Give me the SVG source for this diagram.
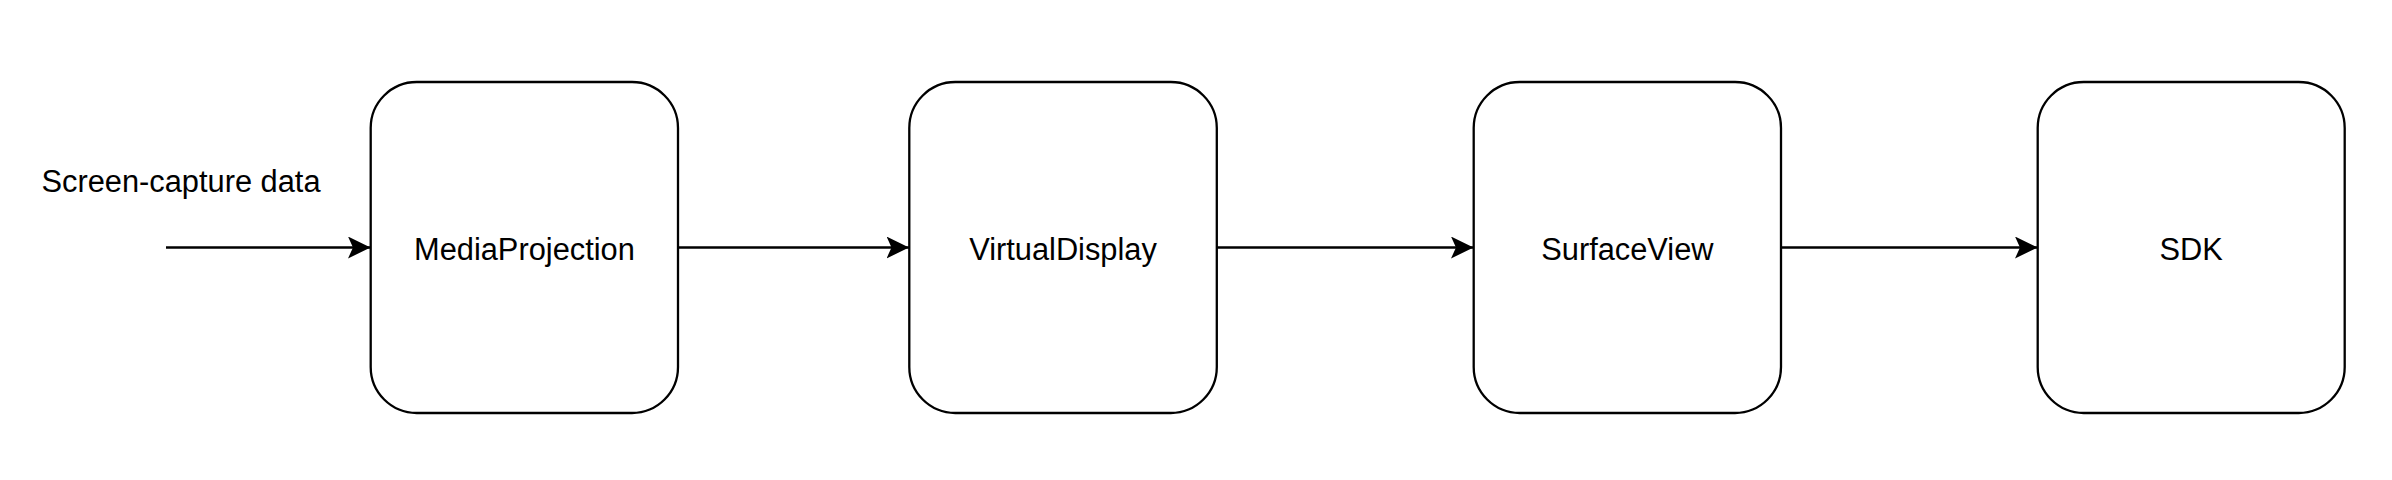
<svg xmlns="http://www.w3.org/2000/svg" width="2392" height="480" viewBox="0 0 2392 480">
  <style>
    .node rect { fill: #ffffff; stroke: #000000; stroke-width: 2.3; }
    .label { font-family: "Liberation Sans", Arial, Helvetica, sans-serif; font-size: 30.8px; fill: #000000; text-anchor: middle; }
    .edge { fill: none; stroke: #000000; stroke-width: 2.3; marker-end: url(#arrow); }
  </style>
  <defs>
    <marker id="arrow" markerUnits="userSpaceOnUse" viewBox="0 0 23 22" markerWidth="23" markerHeight="22" refX="22.5" refY="11" orient="auto">
      <path d="M22.5,11 L0,0 L5,11 L0,22 Z" fill="#000000" stroke="none"/>
    </marker>
  </defs>
  <rect width="2392" height="480" fill="#ffffff"/>
  <g id="connectors">
    <line class="edge" x1="166" y1="247.5" x2="370.5" y2="247.5"/>
    <line class="edge" x1="678" y1="247.5" x2="909" y2="247.5"/>
    <line class="edge" x1="1217" y1="247.5" x2="1473.5" y2="247.5"/>
    <line class="edge" x1="1781" y1="247.5" x2="2037.5" y2="247.5"/>
  </g>
  <g id="input-label">
    <text class="label" x="181" y="191.5">Screen-capture data</text>
  </g>
  <g id="node-mediaprojection" class="node">
    <rect x="370.7" y="82" width="307.3" height="331" rx="46" ry="46"/>
    <text class="label" x="524.4" y="259.5">MediaProjection</text>
  </g>
  <g id="node-virtualdisplay" class="node">
    <rect x="909.3" y="82" width="307.5" height="331" rx="46" ry="46"/>
    <text class="label" x="1063" y="259.5">VirtualDisplay</text>
  </g>
  <g id="node-surfaceview" class="node">
    <rect x="1473.7" y="82" width="307.3" height="331" rx="46" ry="46"/>
    <text class="label" x="1627.4" y="259.5">SurfaceView</text>
  </g>
  <g id="node-sdk" class="node">
    <rect x="2037.7" y="82" width="307" height="331" rx="46" ry="46"/>
    <text class="label" x="2191.2" y="259.5">SDK</text>
  </g>
</svg>
